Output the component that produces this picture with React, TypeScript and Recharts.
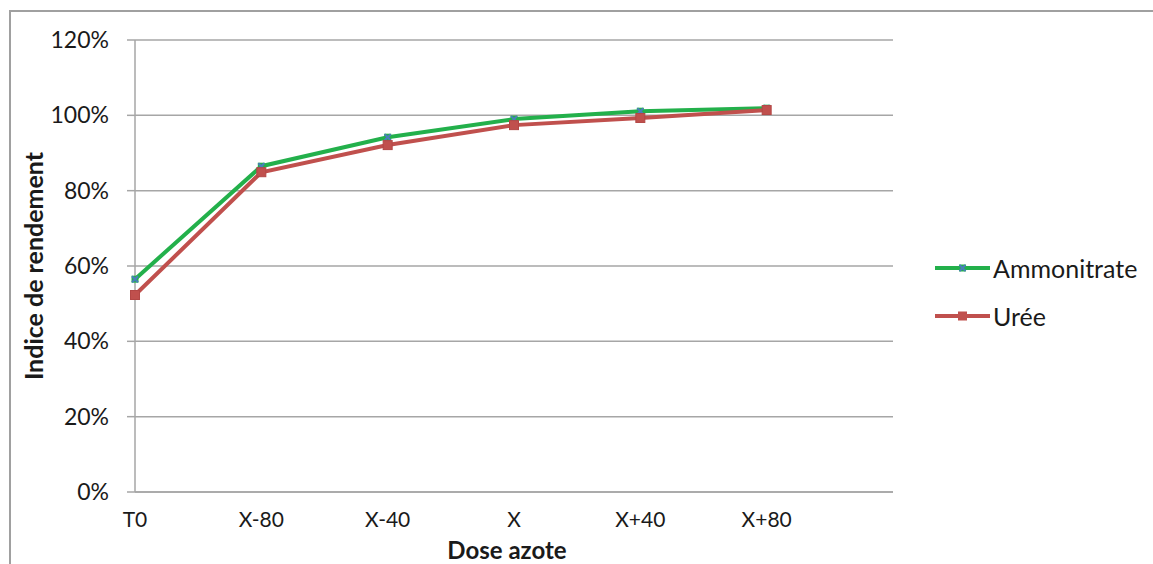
import React from 'react';
import { LineChart, Line, XAxis, YAxis, CartesianGrid } from 'recharts';

const categories = ['T0', 'X-80', 'X-40', 'X', 'X+40', 'X+80'];
const ammonitrate = [56.5, 86.5, 94.2, 99.0, 101.1, 101.9];
const uree = [52.3, 84.9, 92.1, 97.4, 99.3, 101.4];
const yTicks = [0, 20, 40, 60, 80, 100, 120];

const data = categories.map((c, i) => ({
  idx: i,
  name: c,
  Ammonitrate: ammonitrate[i],
  Urée: uree[i],
}));

const font = 'Lato, "Open Sans", sans-serif';
const textColor = '#1a1a1a';
const gridColor = '#a6a6a6';
const green = '#23b04b';
const red = '#c0504d';
const blue = '#4a7ebb';

const CrossDot = (props: any) => {
  const { cx, cy } = props;
  if (cx == null || cy == null) return null;
  const s = 3;
  return (
    <g>
      <rect x={cx - 3.5} y={cy - 3.5} width={7} height={7} fill={green} />
      <path
        d={`M${cx - s},${cy - s}L${cx + s},${cy + s}M${cx - s},${cy + s}L${cx + s},${cy - s}`}
        stroke={blue}
        strokeWidth={2}
      />
    </g>
  );
};

const SquareDot = (props: any) => {
  const { cx, cy } = props;
  if (cx == null || cy == null) return null;
  return <rect x={cx - 4.5} y={cy - 4.5} width={9} height={9} fill={red} stroke="#b34745" strokeWidth={1} />;
};

const legendItems = [
  { name: 'Ammonitrate', color: green, dot: 'cross' },
  { name: 'Urée', color: red, dot: 'square' },
];

const ChartLegend = () => (
  <div style={{ position: 'absolute', left: 935, top: 244, fontFamily: font, fontSize: 25, color: textColor }}>
    {legendItems.map((item) => (
      <div key={item.name} style={{ display: 'flex', alignItems: 'center', height: 48 }}>
        <svg width={56} height={14} style={{ marginRight: 2 }}>
          <line x1={0} y1={7} x2={55} y2={7} stroke={item.color} strokeWidth={4} />
          {item.dot === 'cross' ? (
            <>
              <rect x={24} y={3.5} width={7} height={7} fill={green} />
              <path d="M24.5,4L30.5,10M24.5,10L30.5,4" stroke={blue} strokeWidth={2} />
            </>
          ) : (
            <rect x={23} y={2.5} width={9} height={9} fill={red} />
          )}
        </svg>
        <span>{item.name}</span>
      </div>
    ))}
  </div>
);

export default function App() {
  return (
    <div style={{ position: 'absolute', left: 0, top: 0, width: 1153, height: 564, background: '#fff' }}>
      <div
        style={{
          position: 'absolute',
          left: 9,
          top: 10,
          width: 1144,
          height: 554,
          boxSizing: 'border-box',
          borderTop: '2px solid #a0a0a0',
          borderLeft: '2px solid #a0a0a0',
        }}
      />
      <div style={{ position: 'absolute', left: 0, top: 0 }}>
        <LineChart width={1153} height={564} data={data} margin={{ top: 40, right: 260, left: 45, bottom: 0 }}>
          <CartesianGrid vertical={false} stroke={gridColor} strokeWidth={1.5} />
          <XAxis
            dataKey="idx"
            type="number"
            domain={[0, 6]}
            ticks={[0, 1, 2, 3, 4, 5]}
            tickFormatter={(v: number) => categories[v] ?? ''}
            height={72}
            axisLine={{ stroke: gridColor, strokeWidth: 1.5 }}
            tickLine={false}
            tickSize={0}
            tickMargin={20}
            tick={{ fill: textColor, fontSize: 21, fontFamily: font }}
          />
          <YAxis
            domain={[0, 120]}
            ticks={yTicks}
            tickFormatter={(v: number) => `${v}%`}
            width={90}
            axisLine={{ stroke: gridColor, strokeWidth: 1.5 }}
            tickLine={{ stroke: gridColor, strokeWidth: 1.5 }}
            tickSize={8}
            tickMargin={18}
            tick={{ fill: textColor, fontSize: 23, fontFamily: font }}
          />
          <Line
            dataKey="Ammonitrate"
            stroke={green}
            strokeWidth={4}
            dot={<CrossDot />}
            activeDot={false}
            isAnimationActive={false}
          />
          <Line
            dataKey="Urée"
            stroke={red}
            strokeWidth={4}
            dot={<SquareDot />}
            activeDot={false}
            isAnimationActive={false}
          />
        </LineChart>
      </div>
      <ChartLegend />
      <div
        style={{
          position: 'absolute',
          left: 507,
          top: 550,
          transform: 'translate(-50%, -50%)',
          fontFamily: font,
          fontWeight: 'bold',
          fontSize: 24,
          lineHeight: 1,
          color: textColor,
          whiteSpace: 'nowrap',
        }}
      >
        Dose azote
      </div>
      <div
        style={{
          position: 'absolute',
          left: 33,
          top: 266,
          transform: 'translate(-50%, -50%) rotate(-90deg)',
          fontFamily: font,
          fontWeight: 'bold',
          fontSize: 25,
          lineHeight: 1,
          color: textColor,
          whiteSpace: 'nowrap',
        }}
      >
        Indice de rendement
      </div>
    </div>
  );
}
